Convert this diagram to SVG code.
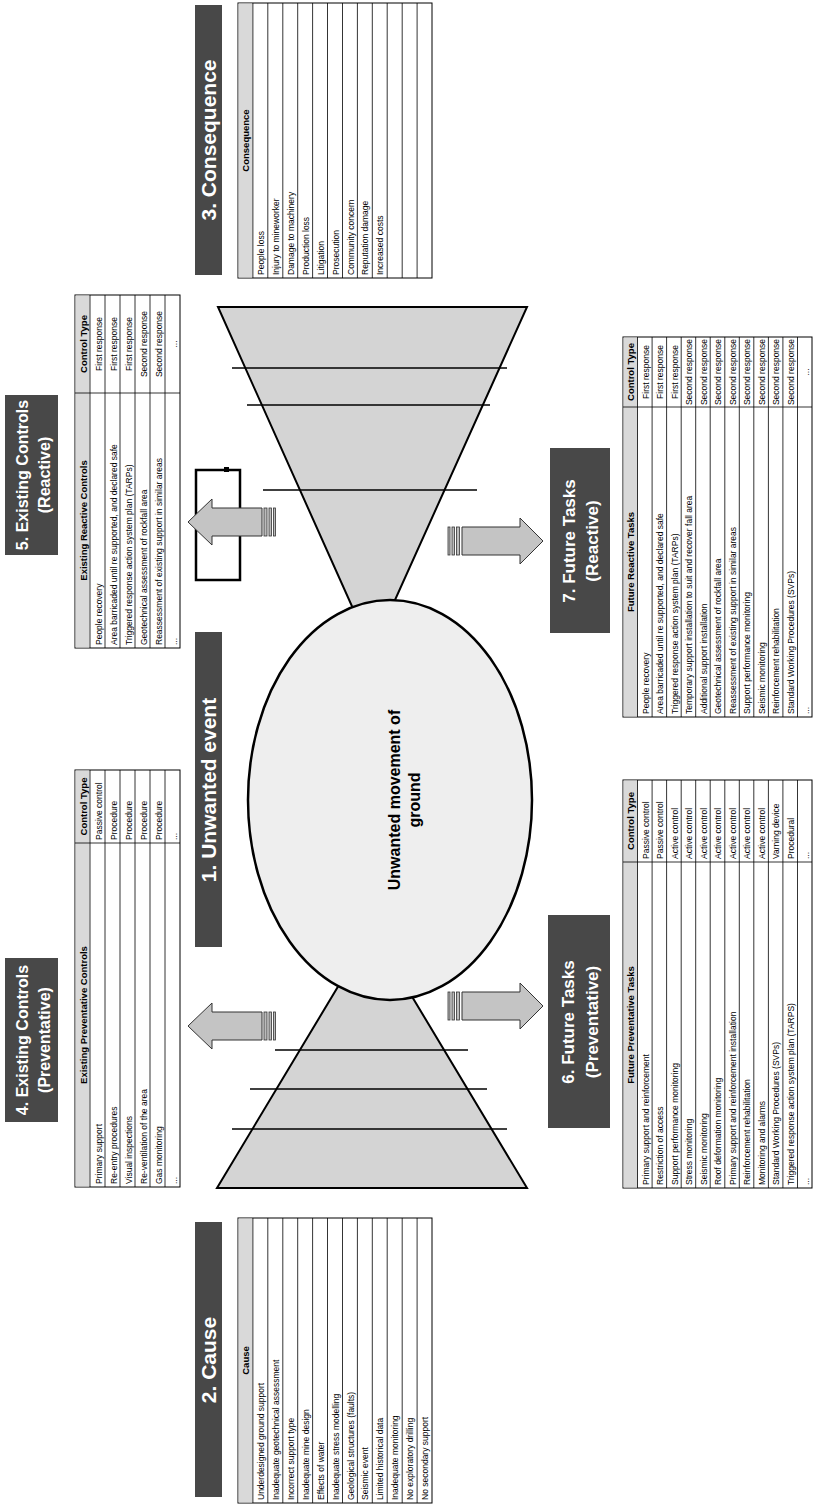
<svg xmlns="http://www.w3.org/2000/svg" width="817" height="1507" viewBox="0 0 817 1507">
<style>
.bg{fill:#fff}
.tbl{fill:#fff;stroke:#000;stroke-width:1}
.hdr{fill:#d9d9d9;stroke:none}
.ln{stroke:#000;stroke-width:0.8;fill:none}
.t{font-family:"Liberation Sans",Arial,sans-serif;font-size:8.5px;fill:#000}
.th{font-family:"Liberation Sans",Arial,sans-serif;font-size:9.5px;font-weight:bold;fill:#000}
.box{fill:#484848}
.ttl{font-family:"Liberation Sans",Arial,sans-serif;font-weight:bold;fill:#fff}
.tri{fill:#d4d4d4;stroke:#000;stroke-width:2}
.tl{stroke:#000;stroke-width:1.5}
.arr{fill:#c4c4c4;stroke:#333;stroke-width:1}
.str{fill:#bbb;stroke:#333;stroke-width:0.8}
.ctr{text-anchor:middle}
</style>
<rect class="bg" x="0" y="0" width="817" height="1507"/>
<g transform="matrix(0,-1,1,0,0,1507)">

<!-- triangles -->
<g id="cause-triangle">
<polygon class="tri" points="319,217 319,527 577,372"/>
<line class="tl" x1="457" y1="275" x2="457" y2="468"/>
<line class="tl" x1="418" y1="250" x2="418" y2="487"/>
<line class="tl" x1="378" y1="232" x2="378" y2="507"/>
</g>
<g id="consequence-triangle">
<polygon class="tri" points="1200,218 1200,527 856,372"/>
<line class="tl" x1="1139" y1="232" x2="1139" y2="507"/>
<line class="tl" x1="1102" y1="247" x2="1102" y2="490"/>
<line class="tl" x1="1017" y1="263" x2="1017" y2="477"/>
</g>

<!-- central event -->
<g id="event">
<ellipse cx="707" cy="390" rx="200" ry="142" fill="#eeeeee" stroke="#000" stroke-width="2.5"/>
<text class="ttl ctr" x="707" y="400" style="fill:#000;font-size:16px">Unwanted movement of</text>
<text class="ttl ctr" x="707" y="420" style="fill:#000;font-size:16px">ground</text>
</g>

<!-- title boxes -->
<g id="title-1">
<rect class="box" x="560" y="195" width="315" height="27"/>
<text class="ttl ctr" x="717" y="216" font-size="21">1. Unwanted event</text>
</g>
<g id="title-2">
<rect class="box" x="10" y="195" width="275" height="27"/>
<text class="ttl ctr" x="147" y="216" font-size="21">2. Cause</text>
</g>
<g id="title-3">
<rect class="box" x="1232" y="195" width="270" height="27"/>
<text class="ttl ctr" x="1367" y="216" font-size="21">3. Consequence</text>
</g>
<g id="title-4">
<rect class="box" x="385" y="5" width="164" height="53"/>
<text class="ttl ctr" x="467" y="28" font-size="16">4. Existing Controls</text>
<text class="ttl ctr" x="467" y="50" font-size="16">(Preventative)</text>
</g>
<g id="title-5">
<rect class="box" x="952" y="5" width="160" height="53"/>
<text class="ttl ctr" x="1032" y="28" font-size="16">5. Existing Controls</text>
<text class="ttl ctr" x="1032" y="50" font-size="16">(Reactive)</text>
</g>
<g id="title-6">
<rect class="box" x="379" y="548" width="213" height="62"/>
<text class="ttl ctr" x="485" y="574" font-size="17">6. Future Tasks</text>
<text class="ttl ctr" x="485" y="598" font-size="17">(Preventative)</text>
</g>
<g id="title-7">
<rect class="box" x="874" y="550" width="185" height="60"/>
<text class="ttl ctr" x="966" y="575" font-size="17">7. Future Tasks</text>
<text class="ttl ctr" x="966" y="598" font-size="17">(Reactive)</text>
</g>

<!-- empty outlined frame -->
<g id="frame">
<rect x="927" y="196" width="110" height="44" fill="none" stroke="#000" stroke-width="2.5"/>
<rect x="1035" y="224" width="5" height="5" fill="#000"/>
</g>

<!-- connectors (block arrows) -->
<g id="connectors">
<path class="arr" d="M481,188 L504,212 L495,212 L495,262 L467,262 L467,212 L458,212 Z"/>
<rect class="str" x="467" y="264" width="28" height="3"/><rect class="str" x="467" y="269" width="28" height="2.5"/><rect class="str" x="467" y="273.5" width="28" height="2"/>
<path class="arr" d="M985,188 L1008,212 L999,212 L999,262 L971,262 L971,212 L962,212 Z"/>
<rect class="str" x="971" y="264" width="28" height="3"/><rect class="str" x="971" y="269" width="28" height="2.5"/><rect class="str" x="971" y="273.5" width="28" height="2"/>
<path class="arr" d="M501,543 L524,520 L515,520 L515,462 L487,462 L487,520 L478,520 Z"/>
<rect class="str" x="487" y="448" width="28" height="2"/><rect class="str" x="487" y="452" width="28" height="2.5"/><rect class="str" x="487" y="456.5" width="28" height="3"/>
<path class="arr" d="M966,543 L989,520 L980,520 L980,462 L952,462 L952,520 L943,520 Z"/>
<rect class="str" x="952" y="448" width="28" height="2"/><rect class="str" x="952" y="452" width="28" height="2.5"/><rect class="str" x="952" y="456.5" width="28" height="3"/>
</g>

<!-- Cause table -->
<g id="cause-table">
<rect class="tbl" x="4" y="238" width="285" height="194"/>
<rect class="hdr" x="4.5" y="238.5" width="284" height="14"/>
<path class="ln" d="M4,252.9H289M4,267.8H289M4,282.8H289M4,297.7H289M4,312.6H289M4,327.5H289M4,342.5H289M4,357.4H289M4,372.3H289M4,387.2H289M4,402.2H289M4,417.1H289"/>
<text class="th ctr" x="146.5" y="249">Cause</text>
<text class="t" x="7" y="263.9">Underdesigned ground support</text>
<text class="t" x="7" y="278.8">Inadequate geotechnical assessment</text>
<text class="t" x="7" y="293.8">Incorrect support type</text>
<text class="t" x="7" y="308.7">Inadequate mine design</text>
<text class="t" x="7" y="323.6">Effects of water</text>
<text class="t" x="7" y="338.5">Inadequate stress modelling</text>
<text class="t" x="7" y="353.5">Geological structures (faults)</text>
<text class="t" x="7" y="368.4">Seismic event</text>
<text class="t" x="7" y="383.3">Limited historical data</text>
<text class="t" x="7" y="398.2">Inadequate monitoring</text>
<text class="t" x="7" y="413.2">No exploratory drilling</text>
<text class="t" x="7" y="428.1">No secondary support</text>
</g>

<!-- Consequence table -->
<g id="consequence-table">
<rect class="tbl" x="1229" y="238" width="275" height="194"/>
<rect class="hdr" x="1229.5" y="238.5" width="274" height="14"/>
<path class="ln" d="M1229,252.9H1504M1229,267.8H1504M1229,282.8H1504M1229,297.7H1504M1229,312.6H1504M1229,327.5H1504M1229,342.5H1504M1229,357.4H1504M1229,372.3H1504M1229,387.2H1504M1229,402.2H1504M1229,417.1H1504"/>
<text class="th ctr" x="1366.5" y="249">Consequence</text>
<text class="t" x="1232" y="263.9">People loss</text>
<text class="t" x="1232" y="278.8">Injury to mineworker</text>
<text class="t" x="1232" y="293.8">Damage to machinery</text>
<text class="t" x="1232" y="308.7">Production loss</text>
<text class="t" x="1232" y="323.6">Litigation</text>
<text class="t" x="1232" y="338.5">Prosecution</text>
<text class="t" x="1232" y="353.5">Community concern</text>
<text class="t" x="1232" y="368.4">Reputation damage</text>
<text class="t" x="1232" y="383.3">Increased costs</text>
</g>

<!-- Existing preventative controls table -->
<g id="existing-preventative-table">
<rect class="tbl" x="320" y="75" width="417" height="105"/>
<rect class="hdr" x="320.5" y="75.5" width="416" height="14"/>
<path class="ln" d="M320,90H737M320,105H737M320,120H737M320,135H737M320,150H737M320,165H737M664,75V180"/>
<text class="th ctr" x="492" y="86.5">Existing Preventative Controls</text>
<text class="th ctr" x="700.5" y="86.5">Control Type</text>
<text class="t" x="323" y="101.5">Primary support</text><text class="t" x="667" y="101.5">Passive control</text>
<text class="t" x="323" y="116.5">Re-entry procedures</text><text class="t" x="667" y="116.5">Procedure</text>
<text class="t" x="323" y="131.5">Visual inspections</text><text class="t" x="667" y="131.5">Procedure</text>
<text class="t" x="323" y="146.5">Re-ventilation of the area</text><text class="t" x="667" y="146.5">Procedure</text>
<text class="t" x="323" y="161.5">Gas monitoring</text><text class="t" x="667" y="161.5">Procedure</text>
<text class="t" x="323" y="176.5">...</text><text class="t" x="667" y="176.5">...</text>
</g>

<!-- Existing reactive controls table -->
<g id="existing-reactive-table">
<rect class="tbl" x="859" y="75" width="353" height="105"/>
<rect class="hdr" x="859.5" y="75.5" width="352" height="14"/>
<path class="ln" d="M859,90H1212M859,105H1212M859,120H1212M859,135H1212M859,150H1212M859,165H1212M1114,75V180"/>
<text class="th ctr" x="986.5" y="86.5">Existing Reactive Controls</text>
<text class="th ctr" x="1163" y="86.5">Control Type</text>
<text class="t" x="862" y="101.5">People recovery</text><text class="t ctr" x="1163" y="101.5">First response</text>
<text class="t" x="862" y="116.5">Area barricaded until re supported, and declared safe</text><text class="t ctr" x="1163" y="116.5">First response</text>
<text class="t" x="862" y="131.5">Triggered response action system plan (TARPs)</text><text class="t ctr" x="1163" y="131.5">First response</text>
<text class="t" x="862" y="146.5">Geotechnical assessment of rockfall area</text><text class="t ctr" x="1163" y="146.5">Second response</text>
<text class="t" x="862" y="161.5">Reassessment of existing support in similar areas</text><text class="t ctr" x="1163" y="161.5">Second response</text>
<text class="t" x="862" y="176.5">...</text><text class="t ctr" x="1163" y="176.5">...</text>
</g>

<!-- Future preventative tasks table -->
<g id="future-preventative-table">
<rect class="tbl" x="319" y="623" width="408" height="189"/>
<rect class="hdr" x="319.5" y="623.5" width="407" height="14"/>
<path class="ln" d="M319,637.5H727M319,652.1H727M319,666.6H727M319,681.2H727M319,695.7H727M319,710.2H727M319,724.8H727M319,739.3H727M319,753.8H727M319,768.4H727M319,782.9H727M319,797.5H727M645,623V812"/>
<text class="th ctr" x="482" y="634">Future Preventative Tasks</text>
<text class="th ctr" x="686" y="634">Control Type</text>
<text class="t" x="322" y="648.5">Primary support and reinforcement</text><text class="t" x="648" y="648.5">Passive control</text>
<text class="t" x="322" y="663">Restriction of access</text><text class="t" x="648" y="663">Passive control</text>
<text class="t" x="322" y="677.6">Support performance monitoring</text><text class="t" x="648" y="677.6">Active control</text>
<text class="t" x="322" y="692.1">Stress monitoring</text><text class="t" x="648" y="692.1">Active control</text>
<text class="t" x="322" y="706.7">Seismic monitoring</text><text class="t" x="648" y="706.7">Active control</text>
<text class="t" x="322" y="721.2">Roof deformation monitoring</text><text class="t" x="648" y="721.2">Active control</text>
<text class="t" x="322" y="735.8">Primary support and reinforcement installation</text><text class="t" x="648" y="735.8">Active control</text>
<text class="t" x="322" y="750.3">Reinforcement rehabilitation</text><text class="t" x="648" y="750.3">Active control</text>
<text class="t" x="322" y="764.8">Monitoring and alarms</text><text class="t" x="648" y="764.8">Active control</text>
<text class="t" x="322" y="779.4">Standard Working Procedures (SVPs)</text><text class="t" x="648" y="779.4">Varning device</text>
<text class="t" x="322" y="793.9">Triggered response action system plan (TARPS)</text><text class="t" x="648" y="793.9">Procedural</text>
<text class="t" x="322" y="808.5">...</text><text class="t" x="648" y="808.5">...</text>
</g>

<!-- Future reactive tasks table -->
<g id="future-reactive-table">
<rect class="tbl" x="790" y="623" width="380" height="189"/>
<rect class="hdr" x="790.5" y="623.5" width="379" height="14"/>
<path class="ln" d="M790,637.5H1170M790,652.1H1170M790,666.6H1170M790,681.2H1170M790,695.7H1170M790,710.2H1170M790,724.8H1170M790,739.3H1170M790,753.8H1170M790,768.4H1170M790,782.9H1170M790,797.5H1170M1100,623V812"/>
<text class="th ctr" x="945" y="634">Future Reactive Tasks</text>
<text class="th ctr" x="1135" y="634">Control Type</text>
<text class="t" x="793" y="648.5">People recovery</text><text class="t ctr" x="1135" y="648.5">First response</text>
<text class="t" x="793" y="663">Area barricaded until re supported, and declared safe</text><text class="t ctr" x="1135" y="663">First response</text>
<text class="t" x="793" y="677.6">Triggered response action system plan (TARPs)</text><text class="t ctr" x="1135" y="677.6">First response</text>
<text class="t" x="793" y="692.1">Temporary support installation to suit and recover fall area</text><text class="t ctr" x="1135" y="692.1">Second response</text>
<text class="t" x="793" y="706.7">Additional support installation</text><text class="t ctr" x="1135" y="706.7">Second response</text>
<text class="t" x="793" y="721.2">Geotechnical assessment of rockfall area</text><text class="t ctr" x="1135" y="721.2">Second response</text>
<text class="t" x="793" y="735.8">Reassessment of existing support in similar areas</text><text class="t ctr" x="1135" y="735.8">Second response</text>
<text class="t" x="793" y="750.3">Support performance monitoring</text><text class="t ctr" x="1135" y="750.3">Second response</text>
<text class="t" x="793" y="764.8">Seismic monitoring</text><text class="t ctr" x="1135" y="764.8">Second response</text>
<text class="t" x="793" y="779.4">Reinforcement rehabilitation</text><text class="t ctr" x="1135" y="779.4">Second response</text>
<text class="t" x="793" y="793.9">Standard Working Procedures (SVPs)</text><text class="t ctr" x="1135" y="793.9">Second response</text>
<text class="t" x="793" y="808.5">...</text><text class="t ctr" x="1135" y="808.5">...</text>
</g>

</g>
</svg>
